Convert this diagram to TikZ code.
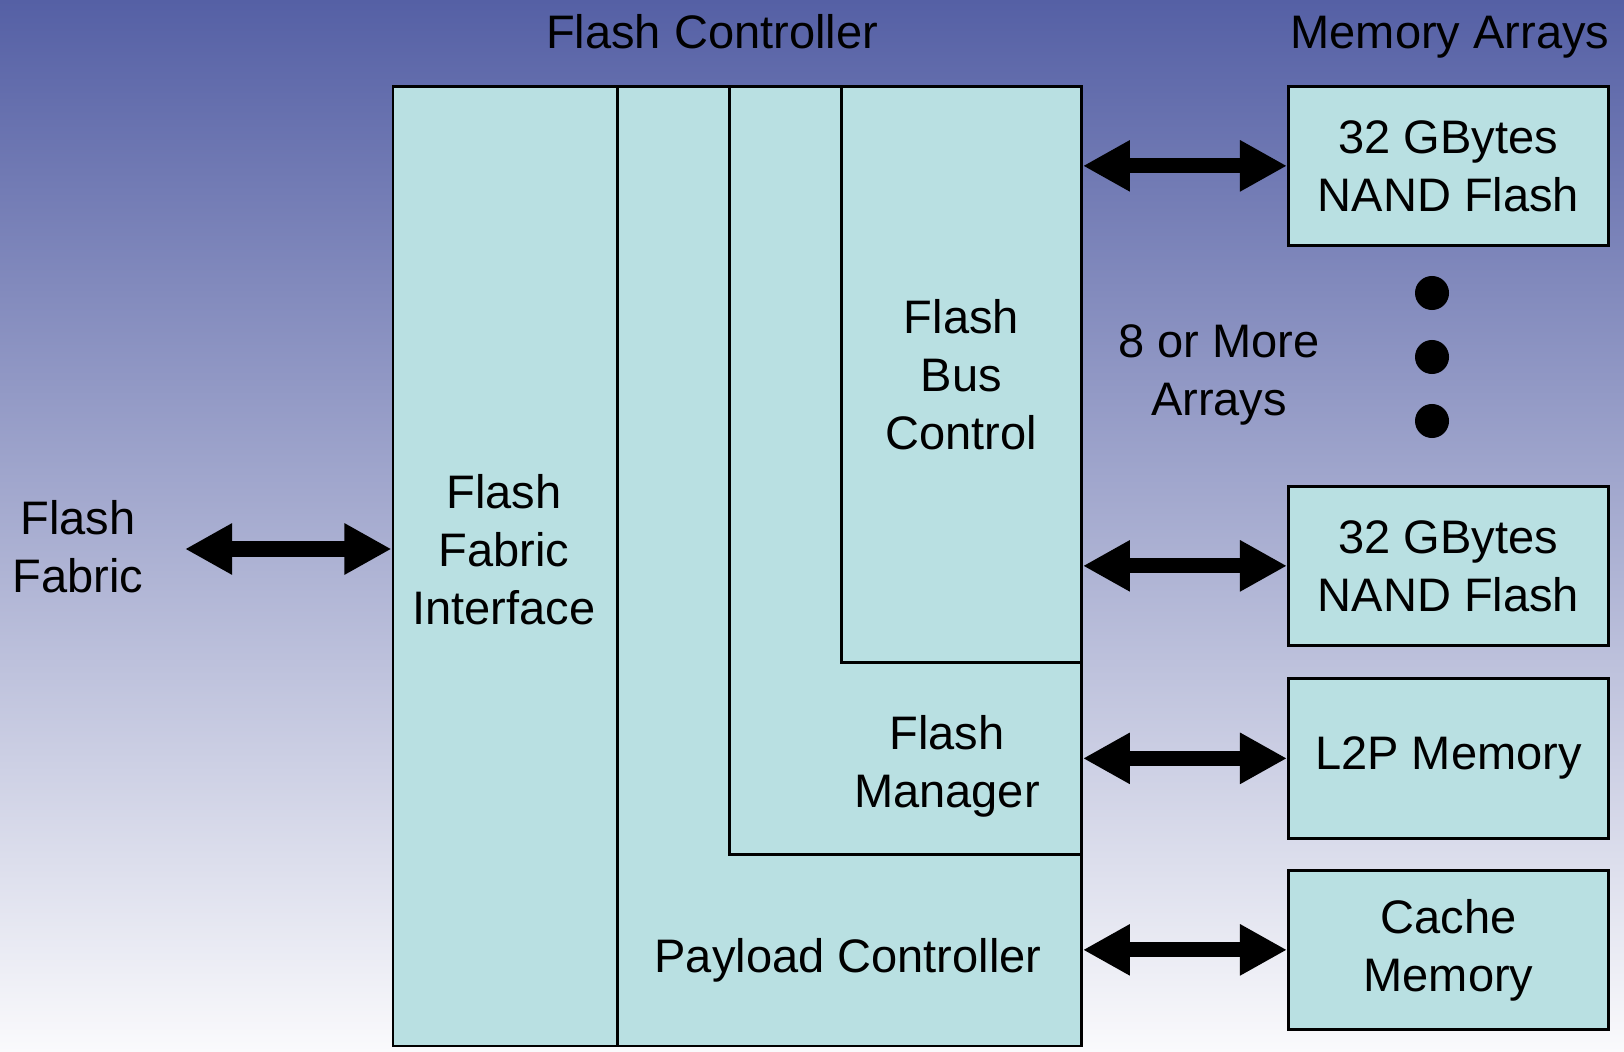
\documentclass[tikz,border=0pt]{standalone}
\usepackage{fontspec}
\setmainfont{Liberation Sans}
\usepackage{tikz}
\usetikzlibrary{arrows.meta,positioning,calc}
\definecolor{boxfill}{RGB}{185,224,226}
\definecolor{bgtop}{RGB}{85,96,165}
\definecolor{bgmid}{RGB}{190,193,216}
\definecolor{bgbot}{RGB}{250,250,252}

\begin{document}
\begin{tikzpicture}[x=0.01cm,y=-0.01cm,>={Triangle[length=0.47cm,width=0.48cm]}]
    \tikzset{
        blk/.style={draw=black, line width=0.75pt, fill=boxfill, anchor=north west, inner sep=0pt},
        lbl/.style={align=center, font={\fontsize{13.37pt}{16.5pt}\selectfont}},
        dbl/.style={<->, line width=0.15cm},
        dot/.style={circle, fill=black, inner sep=0pt, minimum size=0.34cm},
    }
        \useasboundingbox (0,0) rectangle (1624,1052);
        \shade[top color=bgtop, middle color=bgmid, bottom color=bgbot] (0,0) rectangle (1624,1052);

        % controller blocks
        \node[blk, minimum width=4.64cm, minimum height=9.59cm] (pc) at (616,85) {};
        \node[blk, minimum width=3.52cm, minimum height=7.68cm] (fm) at (728,85) {};
        \node[blk, lbl, minimum width=2.40cm, minimum height=5.76cm] (fbc) at (840,85) {Flash\\Bus\\Control};
        \node[blk, minimum width=2.245cm, minimum height=9.59cm] (ffi) at (391.5,85) {};

        % memory arrays
        \node[blk, lbl, minimum width=3.2cm, minimum height=1.59cm] (nand1) at (1287,85) {32 GBytes\\NAND Flash};
        \node[blk, lbl, minimum width=3.2cm, minimum height=1.59cm] (nand2) at (1287,485) {32 GBytes\\NAND Flash};
        \node[blk, lbl, minimum width=3.2cm, minimum height=1.60cm] (l2p) at (1287,677) {L2P Memory};
        \node[blk, lbl, minimum width=3.2cm, minimum height=1.59cm] (cache) at (1287,869) {Cache\\Memory};

        \foreach \y/\n in {293/1,357/2,421/3}
            \node[dot] (dot\n) at (1432,\y) {};

        % labels
        \node[lbl] (title) at (712,32) {Flash Controller};
        \node[lbl] (memtitle) at (1450,37) {Memory Arrays};
        \node[lbl] (fabric) at (78,547) {Flash\\Fabric};
        \node[lbl] (ffitxt) at (504,550) {Flash\\Fabric\\Interface};
        \node[lbl] (fmtxt) at (947,766) {Flash\\Manager};
        \node[lbl] (pctxt) at (848,960) {Payload Controller};
        \node[lbl] (more) at (1219,375) {8 or More\\Arrays};

        % buses
        \coordinate (fabin) at (185,549);
        \draw[dbl] (fabin) -- (fabin -| ffi.west);
        \foreach \m in {nand1,nand2,l2p,cache}
            \draw[dbl] (pc.east |- \m.west) -- (\m.west);
    \end{tikzpicture}
\end{document}
